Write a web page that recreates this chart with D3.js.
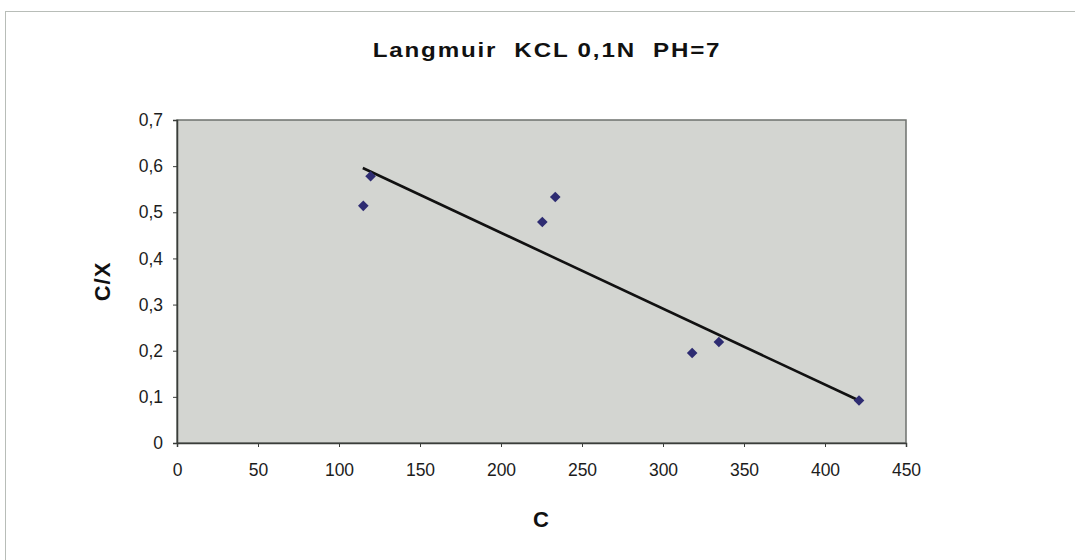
<!DOCTYPE html>
<html>
<head>
<meta charset="utf-8">
<script src="https://cdn.jsdelivr.net/npm/d3@7"></script>
<style>
  body { margin: 0; background: #fff; }
  svg { display: block; font-family: "Liberation Sans", Arial, sans-serif; }
</style>
</head>
<body>
<script>
// measured points (C, C/X)
const cValues  = [115, 119.5, 225.5, 233.5, 318, 334.5, 421];
const cxValues = [0.514, 0.578, 0.479, 0.533, 0.195, 0.219, 0.092];
// trend line ends
const trendC  = [114.7, 421];
const trendCX = [0.596, 0.092];
const xTicks = [0, 50, 100, 150, 200, 250, 300, 350, 400, 450];
const yTicks = [0, 0.1, 0.2, 0.3, 0.4, 0.5, 0.6, 0.7];

const W = 1075, H = 560;
const plot = {left: 177, right: 906, top: 120, bottom: 443};

const svg = d3.select('body').append('svg')
  .attr('width', W).attr('height', H);

// outer chart frame
svg.append('rect')
  .attr('x', 5.5).attr('y', 11.5)
  .attr('width', W + 10).attr('height', H + 10)
  .attr('fill', '#fff')
  .attr('stroke', '#b8bdb8').attr('stroke-width', 1);

const x = d3.scaleLinear().domain([0, 450]).range([plot.left, plot.right]);
const y = d3.scaleLinear().domain([0, 0.7]).range([plot.bottom, plot.top]);

svg.append('rect')
  .attr('x', plot.left).attr('y', plot.top)
  .attr('width', plot.right - plot.left).attr('height', plot.bottom - plot.top)
  .attr('fill', '#d3d5d1')
  .attr('stroke', '#6e716e').attr('stroke-width', 1.5);

const fmt = d => String(d3.format('.1~f')(d)).replace('.', ',');

const xAxis = d3.axisBottom(x).tickValues(xTicks).tickSize(4).tickPadding(17)
  .tickFormat(d => String(d));
const yAxis = d3.axisLeft(y).tickValues(yTicks).tickSize(4).tickPadding(10)
  .tickFormat(fmt);

const gx = svg.append('g')
  .attr('transform', 'translate(0,' + plot.bottom + ')')
  .call(xAxis);
const gy = svg.append('g')
  .attr('transform', 'translate(' + plot.left + ',0)')
  .call(yAxis);

[gx, gy].forEach(g => {
  g.select('.domain').attr('stroke', '#3a3d3a').attr('stroke-width', 1.5);
  g.selectAll('.tick line').attr('stroke', '#3a3d3a');
  g.selectAll('.tick text')
    .attr('fill', '#1c1c1c')
    .style('font-size', '17.5px')
    .style('font-family', '"Liberation Sans", Arial, sans-serif');
});

// trend line
svg.append('line')
  .attr('x1', x(trendC[0])).attr('y1', y(trendCX[0]))
  .attr('x2', x(trendC[1])).attr('y2', y(trendCX[1]))
  .attr('stroke', '#111').attr('stroke-width', 2.6);

// diamond markers
const diamond = d3.symbol().type(d3.symbolDiamond2).size(72);
svg.selectAll('path.pt')
  .data(cValues.map((c, i) => [c, cxValues[i]]))
  .enter().append('path')
  .attr('class', 'pt')
  .attr('d', diamond)
  .attr('transform', d => 'translate(' + x(d[0]) + ',' + y(d[1]) + ')')
  .attr('fill', '#2e2c72');

// title, a bit widened like the scanned original
svg.append('text')
  .attr('transform', 'translate(547,57) scale(1.15,1)')
  .attr('text-anchor', 'middle')
  .style('font-size', '21px').style('font-weight', 'bold')
  .style('letter-spacing', '1.6px').style('white-space', 'pre')
  .attr('fill', '#111')
  .text('Langmuir  KCL 0,1N  PH=7');

svg.append('text')
  .attr('transform', 'translate(110,' + ((plot.top + plot.bottom) / 2) + ') rotate(-90)')
  .attr('text-anchor', 'middle')
  .style('font-size', '22px').style('font-weight', 'bold')
  .style('letter-spacing', '1px')
  .attr('fill', '#111')
  .text('C/X');

svg.append('text')
  .attr('x', 541).attr('y', 527)
  .attr('text-anchor', 'middle')
  .style('font-size', '22px').style('font-weight', 'bold')
  .attr('fill', '#111')
  .text('C');
</script>
</body>
</html>
